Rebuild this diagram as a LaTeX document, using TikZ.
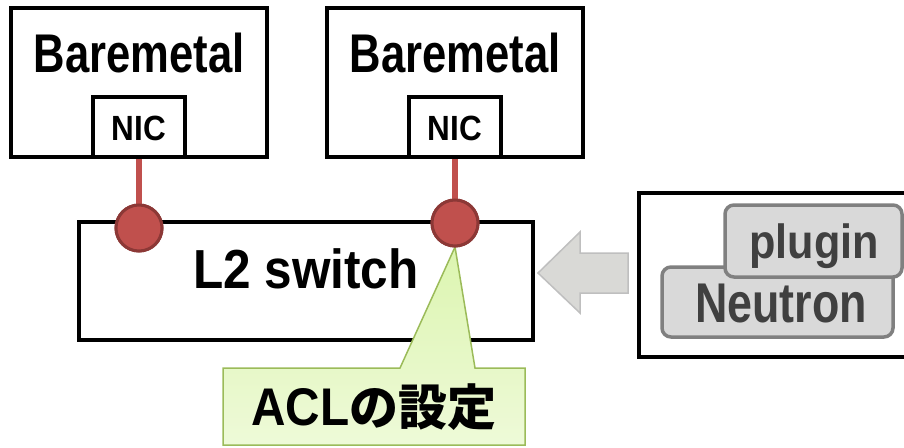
\documentclass[tikz,border=0pt]{standalone}
\usepackage{fontspec}
\newfontfamily\lat{Liberation Sans}[FakeStretch=0.8]
\newfontfamily\latn{Liberation Sans}[FakeStretch=0.9]
\newfontfamily\jp{Noto Sans CJK JP}
\definecolor{portred}{HTML}{C0504D}
\definecolor{portdark}{HTML}{8C3836}
\definecolor{calloutedge}{HTML}{9BBB59}
\definecolor{calloutfillA}{HTML}{DCF5B0}
\definecolor{calloutfillB}{HTML}{EEFAD8}
\definecolor{arrowfill}{HTML}{D9D9D6}
\definecolor{arrowedge}{HTML}{BFBFBF}
\definecolor{grayfill}{HTML}{D9D9D9}
\definecolor{grayedge}{HTML}{808080}
\definecolor{graytext}{HTML}{404040}
\begin{document}
\begin{tikzpicture}[x=1pt,y=-1pt,
  blackbox/.style={draw=black,line width=4pt,fill=white,rectangle,inner sep=0pt},
  port/.style={circle,fill=portred,draw=portdark,line width=3pt,minimum size=46pt,inner sep=0pt},
  link/.style={draw=portred,line width=6pt},
  graybox/.style={draw=grayedge,fill=grayfill,line width=3.5pt,rounded corners=9pt},
  txt/.style={inner sep=0pt,anchor=base}
]
\useasboundingbox (0,0) rectangle (904,447);
% Baremetal 1
\node[blackbox,minimum width=256pt,minimum height=149pt] (bm1) at (139,82.5) {};
\node[txt] (bm1t) at (139,72) {\lat\bfseries\fontsize{54.5}{60}\selectfont Baremetal};
\node[blackbox,minimum width=92pt,minimum height=60pt] (nic1) at (139,127) {};
\node[txt] (nic1t) at (139,140) {\latn\bfseries\fontsize{35}{40}\selectfont NIC};
% Baremetal 2
\node[blackbox,minimum width=256pt,minimum height=149pt] (bm2) at (455,82.5) {};
\node[txt] (bm2t) at (455,72) {\lat\bfseries\fontsize{54.5}{60}\selectfont Baremetal};
\node[blackbox,minimum width=92pt,minimum height=60pt] (nic2) at (455,127) {};
\node[txt] (nic2t) at (455,140) {\latn\bfseries\fontsize{35}{40}\selectfont NIC};
% switch
\node[blackbox,minimum width=454pt,minimum height=118pt] (sw) at (306,281) {};
\node[txt] (swt) at (306,288) {\latn\bfseries\fontsize{55}{60}\selectfont L2 switch};
% callout
\coordinate (tip) at (455,247);
\path[top color=calloutfillA,bottom color=calloutfillB,draw=calloutedge,line width=1.5pt,line join=miter]
  (223,368) -- (400,368) -- (tip) -- (475,368) -- (525,368) -- (525,445) -- (223,445) -- cycle;
\node[txt] (acl) at (374,425) {\latn\bfseries\fontsize{53}{60}\selectfont ACL\jp\bfseries\fontsize{49}{60}\selectfont の設定};
% ports and links
\node[port] (p1) at (139,228) {};
\node[port] (p2) at (455,223) {};
\draw[link] (nic1.south) -- (p1.north);
\draw[link] (nic2.south) -- (p2.north);
\node[port] at (139,228) {};
\node[port] at (455,223) {};
% arrow
\path[fill=arrowfill,draw=arrowedge,line width=1.5pt]
  (538,273) -- (580,232) -- (580,253) -- (628,253) -- (628,293) -- (580,293) -- (580,313) -- cycle;
% Neutron box
\draw[line width=4pt] (912,193) -- (639,193) -- (639,357) -- (912,357);
\draw[graybox] (662,267) rectangle (893,337);
\node[txt] (neu) at (781,322) {\color{graytext}\lat\bfseries\fontsize{56}{62}\selectfont Neutron};
\draw[graybox] (725,205) rectangle (902,277);
\node[txt] (plug) at (814,258) {\color{graytext}\latn\bfseries\fontsize{48}{54}\selectfont plugin};
\end{tikzpicture}
\end{document}
